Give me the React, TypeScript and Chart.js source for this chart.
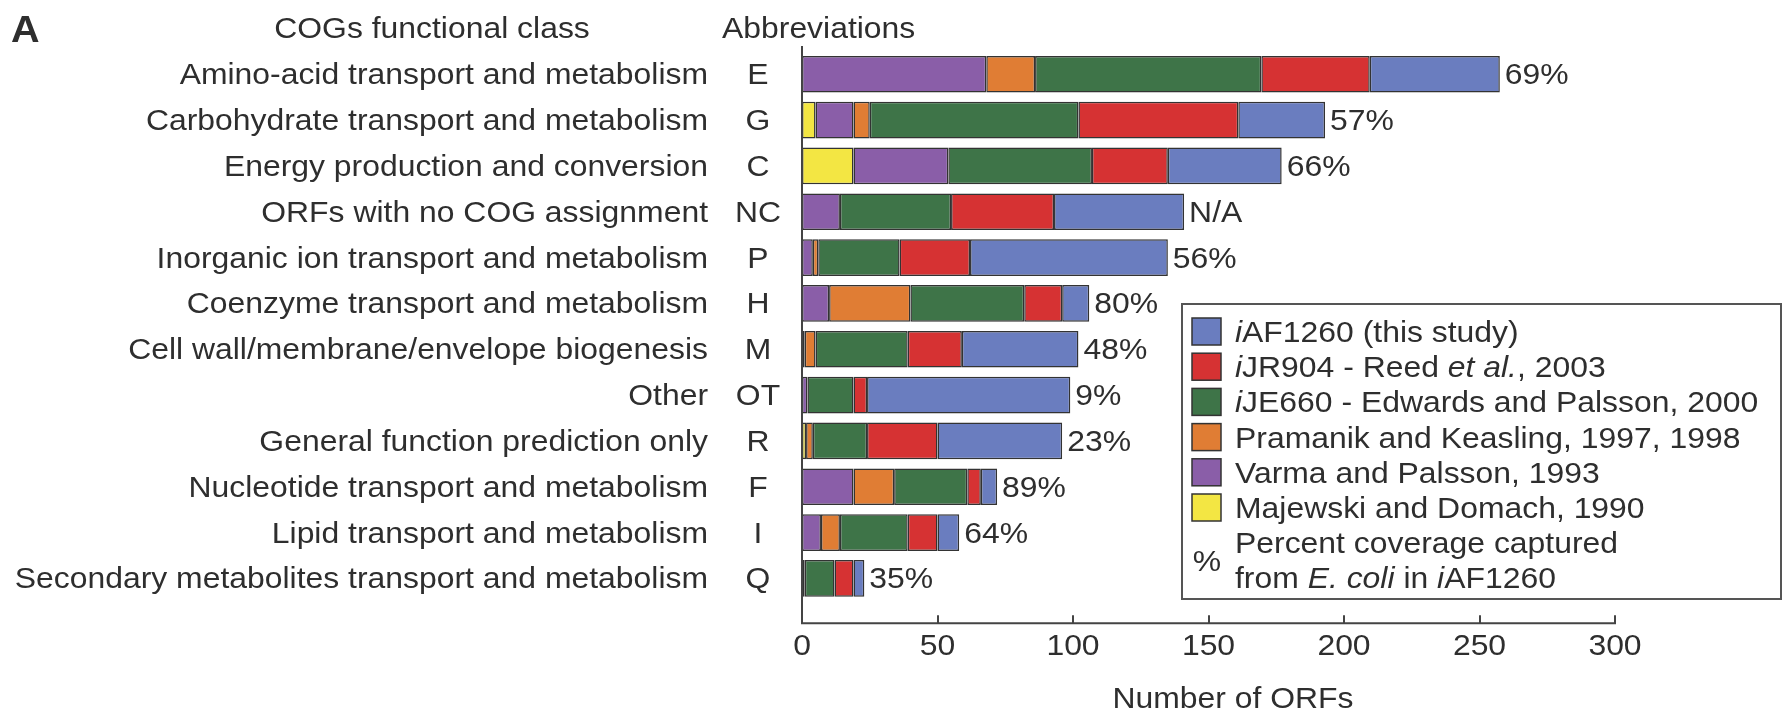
import React, { useEffect, useRef } from 'react';
import { Chart, registerables } from 'chart.js';

Chart.register(...registerables);

// ---------- data ----------
const categories = [
  'Amino-acid transport and metabolism',
  'Carbohydrate transport and metabolism',
  'Energy production and conversion',
  'ORFs with no COG assignment',
  'Inorganic ion transport and metabolism',
  'Coenzyme transport and metabolism',
  'Cell wall/membrane/envelope biogenesis',
  'Other',
  'General function prediction only',
  'Nucleotide transport and metabolism',
  'Lipid transport and metabolism',
  'Secondary metabolites transport and metabolism',
];
const abbreviations = ['E', 'G', 'C', 'NC', 'P', 'H', 'M', 'OT', 'R', 'F', 'I', 'Q'];
const coverage = ['69%', '57%', '66%', 'N/A', '56%', '80%', '48%', '9%', '23%', '89%', '64%', '35%'];

// stacked left -> right
const majewski = [0, 5, 19, 0, 0, 0, 1, 0, 1.5, 0, 0, 0];
const varma = [68, 14, 35, 14, 4, 10, 0, 2, 0, 19, 7, 1];
const pramanik = [18, 6, 0, 0, 2, 30, 4, 0, 2.5, 15, 7, 0];
const iJE660 = [83.5, 77, 53, 41, 30, 42, 34, 17, 20, 27, 25, 11];
const iJR904 = [40, 59, 28, 38, 26, 14, 20, 5, 26, 5, 11, 7];
const iAF1260 = [48, 32, 42, 48, 73, 10, 43, 75, 46, 6, 8, 4];

const xMin = 0;
const xMax = 300;
const xStep = 50;

const seriesLabels = [
  'Majewski and Domach, 1990',
  'Varma and Palsson, 1993',
  'Pramanik and Keasling, 1997, 1998',
  'iJE660 - Edwards and Palsson, 2000',
  'iJR904 - Reed et al., 2003',
  'iAF1260 (this study)',
];
const seriesValues = [majewski, varma, pramanik, iJE660, iJR904, iAF1260];
const seriesColors = ['#F3E643', '#8A5EA8', '#E07D34', '#3E7448', '#D63233', '#6A7DBF'];

// legend rows (top -> bottom), rich text segments
type Seg = { t: string; it?: boolean };
const legendRows: Seg[][] = [
  [{ t: 'i', it: true }, { t: 'AF1260 (this study)' }],
  [{ t: 'i', it: true }, { t: 'JR904 - Reed ' }, { t: 'et al.', it: true }, { t: ', 2003' }],
  [{ t: 'i', it: true }, { t: 'JE660 - Edwards and Palsson, 2000' }],
  [{ t: 'Pramanik and Keasling, 1997, 1998' }],
  [{ t: 'Varma and Palsson, 1993' }],
  [{ t: 'Majewski and Domach, 1990' }],
];
const legendNote: Seg[][] = [
  [{ t: 'Percent coverage captured' }],
  [{ t: 'from ' }, { t: 'E. coli', it: true }, { t: ' in ' }, { t: 'i', it: true }, { t: 'AF1260' }],
];

// ---------- style ----------
const FONT = "'Liberation Sans', Arial, Helvetica, sans-serif";
const SIZE = 29;
const SX = 1.1;
const TEXT = '#2e2e2e';
const AXIS = '#444444';
const AXIS_TOP_EXT = 4.3;
const AXIS_BOTTOM_EXT = 22;

function drawText(ctx: CanvasRenderingContext2D, text: string, x: number, y: number, align: CanvasTextAlign, font: string) {
  ctx.save();
  ctx.font = font;
  ctx.textAlign = align;
  ctx.textBaseline = 'alphabetic';
  ctx.fillStyle = TEXT;
  ctx.translate(x, y);
  ctx.scale(SX, 1);
  ctx.fillText(text, 0, 0);
  ctx.restore();
}

function drawRich(ctx: CanvasRenderingContext2D, segs: Seg[], x: number, y: number) {
  let cx = x;
  for (const s of segs) {
    const font = `${s.it ? 'italic ' : ''}${SIZE}px ${FONT}`;
    drawText(ctx, s.t, cx, y, 'left', font);
    ctx.save();
    ctx.font = font;
    cx += ctx.measureText(s.t).width * SX;
    ctx.restore();
  }
}

const annotations = {
  id: 'annotations',
  afterDraw(chart: any) {
    const ctx: CanvasRenderingContext2D = chart.ctx;
    const xs = chart.scales.x;
    const ys = chart.scales.y;
    const area = chart.chartArea;
    const font = `${SIZE}px ${FONT}`;
    const x0 = xs.getPixelForValue(xMin);
    const x1 = xs.getPixelForValue(xMax);
    const axisY = area.bottom + AXIS_BOTTOM_EXT;
    const axisTop = area.top - AXIS_TOP_EXT;

    // axis lines + inward tick marks
    ctx.save();
    ctx.strokeStyle = AXIS;
    ctx.lineWidth = 2;
    ctx.lineCap = 'square';
    ctx.beginPath();
    ctx.moveTo(x0, axisTop);
    ctx.lineTo(x0, axisY);
    ctx.lineTo(x1, axisY);
    ctx.stroke();
    ctx.lineCap = 'butt';
    xs.ticks.forEach((t: any) => {
      if (t.value === xMin) return;
      const px = Math.round(xs.getPixelForValue(t.value));
      ctx.beginPath();
      ctx.moveTo(px, axisY);
      ctx.lineTo(px, axisY - 8);
      ctx.stroke();
    });
    ctx.restore();

    // x tick labels
    xs.ticks.forEach((t: any) => {
      drawText(ctx, String(t.value), xs.getPixelForValue(t.value), axisY + 32, 'center', font);
    });
    // x title
    drawText(ctx, 'Number of ORFs', 1233, 708, 'center', font);

    // headers
    drawText(ctx, 'A', 11, 42, 'left', `bold 36px ${FONT}`);
    drawText(ctx, 'COGs functional class', 432, 38, 'center', font);
    drawText(ctx, 'Abbreviations', 722, 38, 'left', font);

    // row labels, abbreviations, coverage
    categories.forEach((c, i) => {
      const py = ys.getPixelForValue(i) + 10;
      drawText(ctx, c, 708, py, 'right', font);
      drawText(ctx, abbreviations[i], 758, py, 'center', font);
      const total = seriesValues.reduce((s, arr) => s + arr[i], 0);
      drawText(ctx, coverage[i], xs.getPixelForValue(total) + 5, py, 'left', font);
    });

    // legend
    const bx = 1182, by = 304, bw = 599, bh = 295;
    ctx.save();
    ctx.strokeStyle = '#555555';
    ctx.lineWidth = 2;
    ctx.strokeRect(bx, by, bw, bh);
    ctx.restore();
    const rowStep = 35.2;
    const firstCenter = 331.5;
    legendRows.forEach((segs, k) => {
      const cy = firstCenter + k * rowStep;
      const color = seriesColors[seriesColors.length - 1 - k];
      ctx.save();
      ctx.fillStyle = color;
      ctx.fillRect(1192, cy - 13.5, 29, 27);
      ctx.strokeStyle = '#333333';
      ctx.lineWidth = 1.5;
      ctx.strokeRect(1192, cy - 13.5, 29, 27);
      ctx.restore();
      drawRich(ctx, segs, 1235, cy + 10.5);
    });
    legendNote.forEach((segs, k) => {
      const cy = firstCenter + (6 + k) * rowStep;
      drawRich(ctx, segs, 1235, cy + 10.5);
    });
    drawText(ctx, '%', 1207, firstCenter + 6.5 * rowStep + 10.5, 'center', font);
  },
};

export default function App() {
  const canvasRef = useRef<HTMLCanvasElement | null>(null);

  useEffect(() => {
    document.body.style.margin = '0';
    const canvas = canvasRef.current;
    if (!canvas) return;

    const datasets = seriesValues.map((vals, k) => ({
      label: seriesLabels[k],
      data: vals.map((v) => (v === 0 ? null : v)),
      backgroundColor: seriesColors[k],
      borderColor: '#333333',
      borderWidth: 1.5,
      borderSkipped: false,
      barPercentage: 0.8,
      categoryPercentage: 1.0,
    }));

    const chart = new Chart(canvas, {
      type: 'bar',
      data: { labels: abbreviations, datasets } as any,
      options: {
        indexAxis: 'y',
        responsive: false,
        animation: false,
        events: [],
        layout: { padding: { left: 802, right: 169, top: 51.3, bottom: 0 } },
        plugins: { legend: { display: false }, tooltip: { enabled: false } },
        scales: {
          x: {
            type: 'linear',
            stacked: true,
            min: xMin,
            max: xMax,
            ticks: { stepSize: xStep, display: false },
            grid: { display: false },
            border: { display: false },
            afterFit: (s: any) => { s.height = 713 - 601.3; },
          },
          y: {
            type: 'category',
            stacked: true,
            offset: true,
            ticks: { display: false },
            grid: { display: false },
            border: { display: false },
            afterFit: (s: any) => { s.width = 0; },
          },
        },
      } as any,
      plugins: [annotations],
    });

    return () => chart.destroy();
  }, []);

  return (
    <div style={{ width: 1784, height: 713, background: '#ffffff' }}>
      <canvas ref={canvasRef} width={1784} height={713} style={{ display: 'block' }} />
    </div>
  );
}
